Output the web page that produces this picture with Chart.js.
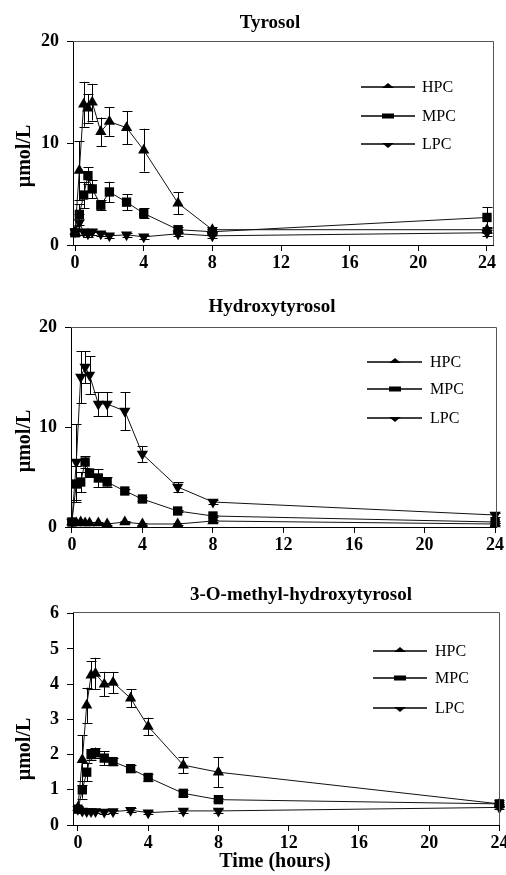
<!DOCTYPE html>
<html>
<head>
<meta charset="utf-8">
<script src="https://cdn.jsdelivr.net/npm/chart.js@4/dist/chart.umd.min.js"></script>
<style>
  body { margin: 0; background: #fff; width: 506px; height: 875px; position: relative; overflow: hidden; }
  canvas { position: absolute; left: 0; }
</style>
</head>
<body>
<canvas id="c1" width="506" height="288" style="top:0px"></canvas>
<canvas id="c2" width="506" height="290" style="top:288px"></canvas>
<canvas id="c3" width="506" height="297" style="top:578px"></canvas>
<script>
// sampling times (hours)
const times = [0, 0.25, 0.5, 0.75, 1, 1.5, 2, 3, 4, 6, 8, 24];
const xTicks = [0, 4, 8, 12, 16, 20, 24];
const seriesNames = ["HPC", "MPC", "LPC"];

// Tyrosol
const tyrHPC = [1.3, 7.3, 13.8, 13.4, 14.0, 11.1, 12.1, 11.5, 9.3, 4.1, 1.5, 1.5];
const tyrHPCerr = [0.3, 2.9, 2.2, 1.4, 1.8, 1.4, 1.4, 1.6, 2.1, 1.1, 0.3, 0.3];
const tyrMPC = [1.2, 3.0, 4.9, 6.8, 5.5, 3.9, 5.2, 4.2, 3.1, 1.5, 1.3, 2.7];
const tyrMPCerr = [0.3, 1.0, 1.3, 0.8, 0.9, 0.5, 1.0, 0.8, 0.5, 0.3, 0.3, 1.0];
const tyrLPC = [1.3, 2.2, 1.3, 1.1, 1.3, 1.1, 0.9, 1.0, 0.8, 1.1, 0.9, 1.2];
const tyrLPCerr = [0.3, 0.8, 0.3, 0.3, 0.3, 0.2, 0.2, 0.2, 0.2, 0.2, 0.2, 0.3];
const tyrYTicks = [0, 10, 20];

// Hydroxytyrosol
const htHPC = [0.5, 0.4, 0.5, 0.4, 0.4, 0.4, 0.3, 0.5, 0.3, 0.3, 0.6, 0.3];
const htHPCerr = [0.1, 0.1, 0.1, 0.1, 0.1, 0.1, 0.1, 0.1, 0.1, 0.1, 0.1, 0.1];
const htMPC = [0.5, 4.3, 4.5, 6.5, 5.4, 4.9, 4.5, 3.6, 2.8, 1.6, 1.1, 0.5];
const htMPCerr = [0.1, 1.8, 1.0, 0.6, 0.4, 0.9, 0.5, 0.2, 0.2, 0.1, 0.1, 0.1];
const htLPC = [0.5, 6.5, 15.0, 16.0, 15.2, 12.3, 12.3, 11.6, 7.3, 4.0, 2.5, 1.2];
const htLPCerr = [0.1, 3.8, 2.6, 1.6, 1.9, 1.2, 1.2, 1.9, 0.8, 0.5, 0.2, 0.2];
const htYTicks = [0, 10, 20];

// 3-O-methyl-hydroxytyrosol
const mhtHPC = [0.5, 1.85, 3.4, 4.25, 4.3, 4.0, 4.05, 3.6, 2.8, 1.7, 1.5, 0.6];
const mhtHPCerr = [0.05, 0.7, 0.5, 0.4, 0.45, 0.35, 0.3, 0.25, 0.25, 0.23, 0.43, 0.1];
const mhtMPC = [0.45, 1.0, 1.5, 2.0, 2.05, 1.9, 1.8, 1.6, 1.35, 0.9, 0.72, 0.6];
const mhtMPCerr = [0.05, 0.25, 0.25, 0.15, 0.15, 0.2, 0.1, 0.1, 0.1, 0.08, 0.05, 0.05];
const mhtLPC = [0.45, 0.4, 0.38, 0.38, 0.38, 0.37, 0.38, 0.42, 0.35, 0.4, 0.4, 0.5];
const mhtLPCerr = [0.05, 0.05, 0.05, 0.05, 0.05, 0.05, 0.05, 0.05, 0.05, 0.05, 0.05, 0.05];
const mhtYTicks = [0, 1, 2, 3, 4, 5, 6];

const SERIF = '"Liberation Serif", "Times New Roman", serif';

// error bars, frame, legend and texts
const extras = {
  id: "extras",
  beforeDatasetsDraw(chart) {
    const ctx = chart.ctx;
    const ys = chart.scales.y;
    ctx.save();
    ctx.strokeStyle = "#000";
    ctx.lineWidth = 1;
    chart.data.datasets.forEach((ds, i) => {
      const meta = chart.getDatasetMeta(i);
      meta.data.forEach((pt, j) => {
        const v = ds.data[j].y, e = ds.err[j];
        const y1 = ys.getPixelForValue(v + e), y2 = ys.getPixelForValue(v - e);
        const x = Math.round(pt.x) + 0.5;
        ctx.beginPath();
        ctx.moveTo(x, y1); ctx.lineTo(x, y2);
        ctx.moveTo(x - 5, Math.round(y1) + 0.5); ctx.lineTo(x + 5, Math.round(y1) + 0.5);
        ctx.moveTo(x - 5, Math.round(y2) + 0.5); ctx.lineTo(x + 5, Math.round(y2) + 0.5);
        ctx.stroke();
      });
    });
    ctx.restore();
  },
  afterDraw(chart, args, o) {
    const ctx = chart.ctx;
    const a = chart.chartArea;
    ctx.save();
    // top and right frame
    ctx.strokeStyle = "#555";
    ctx.lineWidth = 1;
    ctx.beginPath();
    ctx.moveTo(Math.round(a.left), Math.round(a.top) + 0.5);
    ctx.lineTo(Math.round(a.right) + 0.5, Math.round(a.top) + 0.5);
    ctx.lineTo(Math.round(a.right) + 0.5, Math.round(a.bottom));
    ctx.stroke();

    // legend
    ctx.fillStyle = "#000";
    ctx.strokeStyle = "#000";
    chart.data.datasets.forEach((ds, i) => {
      const y = o.legend.rows[i];
      const m = o.legend.marker;
      ctx.lineWidth = 1.5;
      ctx.beginPath();
      ctx.moveTo(o.legend.x1, y); ctx.lineTo(o.legend.x2, y);
      ctx.stroke();
      ctx.beginPath();
      if (ds.pointStyle === "rect") {
        ctx.rect(m - 6, y - 2.5, 12, 5);
      } else if (ds.pointRotation === 180) {
        ctx.moveTo(m - 6, y - 1); ctx.lineTo(m + 6, y - 1); ctx.lineTo(m, y + 4);
      } else {
        ctx.moveTo(m - 6, y + 1); ctx.lineTo(m + 6, y + 1); ctx.lineTo(m, y - 4);
      }
      ctx.closePath();
      ctx.fill();
      ctx.font = "16px " + SERIF;
      ctx.textAlign = "left";
      ctx.textBaseline = "middle";
      ctx.fillText(ds.label, o.legend.textX, y + 1);
    });

    // panel title
    ctx.font = "bold 19px " + SERIF;
    ctx.textAlign = "center";
    ctx.textBaseline = "middle";
    ctx.fillText(o.title, o.titleX, o.titleY);

    // y title
    ctx.save();
    ctx.translate(25, o.yTitleY);
    ctx.rotate(-Math.PI / 2);
    ctx.font = "bold 20px " + SERIF;
    ctx.fillText("\u00b5mol/L", 0, 0);
    ctx.restore();

    if (o.xTitle) {
      ctx.font = "bold 20px " + SERIF;
      ctx.fillText(o.xTitle, o.xTitleX, o.xTitleY);
    }
    ctx.restore();
  }
};

function makePanel(id, p) {
  const cv = document.getElementById(id);
  const H = cv.height;
  const tickFont = { family: SERIF, size: 18, weight: "bold" };
  const styles = [
    { pointStyle: "triangle", rot: 0, r: 6.5 },
    { pointStyle: "rect", rot: 0, r: 6.6 },
    { pointStyle: "triangle", rot: 180, r: 6.5 }
  ];
  const datasets = p.series.map((s, i) => ({
    label: seriesNames[i],
    data: times.map((t, j) => ({ x: t, y: s.values[j] })),
    err: s.err,
    borderColor: "#111",
    borderWidth: 1,
    backgroundColor: "#000",
    pointBackgroundColor: "#000",
    pointBorderColor: "#000",
    pointBorderWidth: 0,
    pointStyle: styles[i].pointStyle,
    pointRotation: styles[i].rot,
    pointRadius: styles[i].r,
    tension: 0,
    clip: false
  }));
  return new Chart(cv, {
    type: "line",
    data: { datasets },
    plugins: [extras],
    options: {
      responsive: false,
      animation: false,
      events: [],
      layout: { padding: { top: p.top, right: cv.width - p.right, left: 0, bottom: 0 } },
      plugins: {
        legend: { display: false },
        tooltip: { enabled: false },
        title: { display: false },
        extras: p.extras
      },
      scales: {
        x: {
          type: "linear",
          min: p.xMin,
          max: p.xMax,
          afterBuildTicks: s => { s.ticks = xTicks.map(v => ({ value: v })); },
          afterFit: s => { s.height = H - p.bottom; s.paddingLeft = 0; s.paddingRight = 0; },
          grid: { drawOnChartArea: false, drawTicks: true, tickLength: 6, color: "#000" },
          border: { color: "#000", width: 1 },
          ticks: { font: tickFont, color: "#000", padding: 2, maxRotation: 0, autoSkip: false }
        },
        y: {
          type: "linear",
          min: 0,
          max: p.yMax,
          afterBuildTicks: s => { s.ticks = p.yTicks.map(v => ({ value: v })); },
          afterFit: s => { s.width = p.left; s.paddingTop = 0; s.paddingBottom = 0; },
          grid: { drawOnChartArea: false, drawTicks: true, tickLength: 6, color: "#000" },
          border: { color: "#000", width: 1 },
          ticks: { font: tickFont, color: "#000", padding: 8, autoSkip: false }
        }
      }
    }
  });
}

makePanel("c1", {
  top: 41, bottom: 245, left: 73, right: 493,
  xMin: -0.12, xMax: 24.35, yMax: 20, yTicks: tyrYTicks,
  series: [
    { values: tyrHPC, err: tyrHPCerr },
    { values: tyrMPC, err: tyrMPCerr },
    { values: tyrLPC, err: tyrLPCerr }
  ],
  extras: {
    title: "Tyrosol", titleX: 270, titleY: 23, yTitleY: 156,
    legend: { x1: 361, x2: 415, marker: 388, textX: 422, rows: [87, 116, 144] }
  }
});

makePanel("c2", {
  top: 39, bottom: 239, left: 71, right: 496,
  xMin: -0.05, xMax: 24.05, yMax: 20, yTicks: htYTicks,
  series: [
    { values: htHPC, err: htHPCerr },
    { values: htMPC, err: htMPCerr },
    { values: htLPC, err: htLPCerr }
  ],
  extras: {
    title: "Hydroxytyrosol", titleX: 272, titleY: 19, yTitleY: 153,
    legend: { x1: 367, x2: 422, marker: 395, textX: 430, rows: [74, 101, 130] }
  }
});

makePanel("c3", {
  top: 34, bottom: 247, left: 73, right: 500,
  xMin: -0.28, xMax: 24, yMax: 6.05, yTicks: mhtYTicks,
  series: [
    { values: mhtHPC, err: mhtHPCerr },
    { values: mhtMPC, err: mhtMPCerr },
    { values: mhtLPC, err: mhtLPCerr }
  ],
  extras: {
    title: "3-O-methyl-hydroxytyrosol", titleX: 301, titleY: 17, yTitleY: 171,
    legend: { x1: 373, x2: 427, marker: 400, textX: 435, rows: [73, 100, 130] },
    xTitle: "Time (hours)", xTitleX: 275, xTitleY: 284
  }
});
</script>
</body>
</html>
